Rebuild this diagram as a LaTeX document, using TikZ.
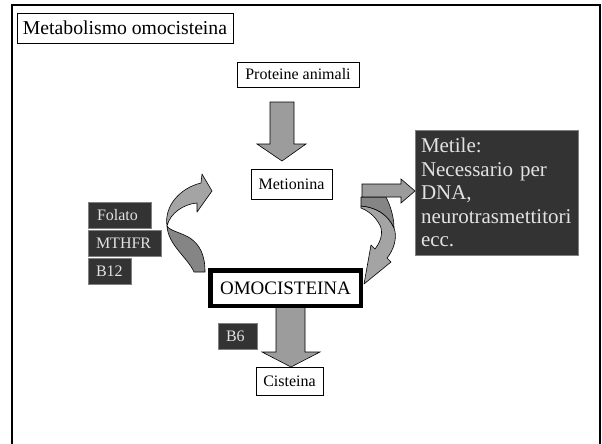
\documentclass[tikz,border=0pt]{standalone}
\usepackage{fontspec}
\setmainfont{Liberation Serif}
\definecolor{arrowgray}{HTML}{9C9C9C}
\definecolor{frontgray}{HTML}{A4A4A4}
\definecolor{backgray}{HTML}{858585}
\definecolor{darkfill}{HTML}{333333}
\definecolor{darktext}{HTML}{E2E2E2}
\begin{document}
\begin{tikzpicture}[x=1pt,y=-1pt,
  wbox/.style={draw=black, line width=0.8, fill=white, inner sep=0pt, font=\fontsize{16}{18}\selectfont},
  dbox/.style={draw=gray, line width=0.8, fill=darkfill, text=darktext, inner ysep=0pt, align=left, font=\fontsize{16}{18}\selectfont},
  blockarrow/.style={draw=black, line width=0.6, fill=arrowgray, line join=miter},
  frontpart/.style={draw=black, line width=0.6, fill=frontgray, line join=round},
  backpart/.style={draw=black, line width=0.6, fill=backgray, line join=round}]
\useasboundingbox (0,0) rectangle (602,444);
% frame
\draw[line width=2] (12,444) -- (12,5) -- (599.5,5) -- (599.5,444);
% title
\node[wbox, minimum width=216, minimum height=30, font=\fontsize{19.7}{22}\selectfont] (title) at (125,28) {Metabolismo omocisteina};
% nodes
\node[wbox, minimum width=122, minimum height=25] (prot) at (298,74.5) {Proteine animali};
\node[wbox, minimum width=81, minimum height=30] (met) at (291.5,184) {Metionina};
\node[dbox, minimum height=125, text width=151, inner xsep=6, font=\fontsize{21}{23.5}\selectfont] (metile) at (496.5,192.5) {Metile:\\Necessario per\\DNA,\\neurotrasmettitori\\ecc.};
\node[dbox, minimum height=26, text width=45, inner xsep=9] (folato) at (119.5,215) {Folato};
\node[dbox, minimum height=26, text width=57, inner xsep=8] (mthfr) at (124.5,243) {MTHFR};
\node[dbox, minimum height=26, text width=27, inner xsep=8] (b12) at (109.5,271) {B12};
\node[dbox, minimum height=26, text width=23, inner xsep=8] (b6) at (237.5,336) {B6};
% block arrows
\draw[blockarrow] (270,102) -- (294,102) -- (294,144) -- (306,144) -- (282,161) -- (257,144) -- (270,144) -- cycle;
% left curved arrow
\draw[backpart] (167,226) .. controls (168,245) and (188,258) .. (194,272) -- (205,272) .. controls (205,255) and (200,245) .. (190,238) .. controls (180,232) and (170,231) .. (167,226) -- cycle;
\draw[frontpart] (167,226) .. controls (164,206) and (180,188) .. (201,183) -- (202,174) -- (212,191) -- (197,212) -- (197,203) .. controls (184,204) and (170,213) .. (167,226) -- cycle;
% right curved arrow
\draw[frontpart] (361,206) .. controls (375,207) and (388,214) .. (394,228) .. controls (398,238) and (393,251) .. (387,258) -- (391,262) -- (364,284) -- (371,245) -- (375,249) .. controls (382,240) and (384,230) .. (378,222) .. controls (373,214) and (366,210) .. (361,208) -- cycle;
\draw[backpart] (361,197) -- (386,197) .. controls (391,207) and (394,218) .. (394,228) .. controls (388,214) and (375,207) .. (361,206) -- cycle;
\draw[blockarrow] (362,184) -- (401,184) -- (401,179) -- (415,191) -- (401,203) -- (401,197) -- (362,197) -- cycle;
\draw[blockarrow] (276,305) -- (305,305) -- (305,352) -- (320,352) -- (291,367) -- (262,352) -- (276,352) -- cycle;
\node[wbox, line width=4.5, minimum width=150.5, minimum height=35.5, font=\fontsize{19}{21}\selectfont] (omo) at (285.5,288) {OMOCISTEINA};
\node[wbox, minimum width=67, minimum height=28] (cis) at (289.5,381) {Cisteina};
\end{tikzpicture}
\end{document}
